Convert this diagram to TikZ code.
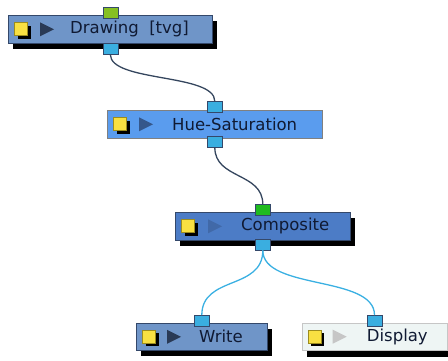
\documentclass[tikz,border=0pt]{standalone}
\usepackage{fontspec}
\setmainfont{DejaVu Sans}
\usepackage{xcolor}
\usetikzlibrary{arrows.meta, positioning, calc, shadows, shapes.misc}

\definecolor{drawblue}{HTML}{6F95C8}
\definecolor{hueblue}{HTML}{5A9CEE}
\definecolor{compblue}{HTML}{4C7CC6}
\definecolor{displight}{HTML}{EEF5F4}
\definecolor{boxedge}{HTML}{34486A}
\definecolor{portcyan}{HTML}{3AAEE0}
\definecolor{portlime}{HTML}{86C022}
\definecolor{portgreen}{HTML}{1FBB1F}
\definecolor{iconyellow}{HTML}{F8E042}
\definecolor{iconedge}{HTML}{9C8C1E}
\definecolor{wiredark}{HTML}{35465E}
\definecolor{wirecyan}{HTML}{3AB0E2}
\definecolor{textnavy}{HTML}{101A33}

\begin{document}
\begin{tikzpicture}[
    x=1pt, y=-1pt,
    modbox/.style={draw=boxedge, line width=0.6pt, fill=#1, anchor=north west,
      inner sep=0pt, minimum height=28pt},
    boxshadow/.style={drop shadow={shadow xshift=5pt, shadow yshift=-6pt,
      opacity=1, fill=black}},
    port/.style={draw=boxedge, line width=0.6pt, fill=#1, inner sep=0pt,
      minimum width=15pt, minimum height=11pt},
    icon/.style={draw=iconedge, line width=0.8pt, fill=iconyellow, inner sep=0pt,
      minimum size=13pt, drop shadow={shadow xshift=3pt, shadow yshift=-3pt,
      opacity=1, fill=black}},
    lbl/.style={anchor=west, inner sep=0pt, font=\fontsize{16.5}{18}\selectfont, text=textnavy},
    wire/.style={line width=1.3pt, draw=#1},
]
    \useasboundingbox (0,0) rectangle (448,360);

    % Drawing [tvg]
    \node[modbox=drawblue, boxshadow, minimum width=204pt] (drawing) at (8,15) {};
    \node[icon] (drawingicon) at ($(drawing.west)+(13,0)$) {};
    \fill[boxedge!80!black] ($(drawing.west)+(32,-7)$) -- ++(14,7) -- ++(-14,7) -- cycle;
    \node[lbl] (drawinglbl) at ($(drawing.west)+(62,0)$) {Drawing~ [tvg]};
    \node[port=portlime] (drawingin) at ($(drawing.north)+(0,-2)$) {};
    \node[port=portcyan] (drawingout) at ($(drawing.south)+(0,5)$) {};

    % Hue-Saturation
    \node[modbox=hueblue, draw=gray, minimum width=215pt] (huesat) at (107,110) {};
    \node[icon] (huesaticon) at ($(huesat.west)+(13,0)$) {};
    \fill[compblue!70!black] ($(huesat.west)+(32,-7)$) -- ++(14,7) -- ++(-14,7) -- cycle;
    \node[lbl] (huesatlbl) at ($(huesat.west)+(65,0)$) {Hue-Saturation};
    \node[port=portcyan] (huesatin) at ($(huesat.north)+(0,-3)$) {};
    \node[port=portcyan] (huesatout) at ($(huesat.south)+(0,3)$) {};

    % Composite
    \node[modbox=compblue, boxshadow, minimum width=175pt] (composite) at (175,212) {};
    \node[icon] (compositeicon) at ($(composite.west)+(13,0)$) {};
    \fill[compblue!85!black] ($(composite.west)+(33,-7)$) -- ++(14,7) -- ++(-14,7) -- cycle;
    \node[lbl] (compositelbl) at ($(composite.west)+(66,0)$) {Composite};
    \node[port=portgreen] (compositein) at ($(composite.north)+(0,-2)$) {};
    \node[port=portcyan] (compositeout) at ($(composite.south)+(0,4)$) {};

    % Write
    \node[modbox=drawblue, boxshadow, minimum width=131pt, minimum height=27pt] (write) at (136,323) {};
    \node[icon] (writeicon) at ($(write.west)+(13,0)$) {};
    \fill[boxedge!80!black] ($(write.west)+(31,-7)$) -- ++(14,7) -- ++(-14,7) -- cycle;
    \node[lbl] (writelbl) at ($(write.west)+(63,0)$) {Write};
    \node[port=portcyan] (writein) at ($(write.north)+(0,-2)$) {};

    % Display (shadow drawn by hand)
    \fill[black] (307,329) rectangle (452,357);
    \node[modbox=displight, draw=gray!45, minimum width=145pt, minimum height=27pt,
      chamfered rectangle, chamfered rectangle xsep=3pt, chamfered rectangle ysep=3pt,
      chamfered rectangle corners={north east, north west}] (display) at (302,323) {};
    \node[icon] (displayicon) at ($(display.west)+(13,0)$) {};
    \fill[gray!45] ($(display.west)+(31,-7)$) -- ++(14,7) -- ++(-14,7) -- cycle;
    \node[lbl] (displaylbl) at ($(display.west)+(65,0)$) {Display};
    \node[port=portcyan] (displayin) at ($(display.north)+(0,-2)$) {};

    % Connections
    \draw[wire=wiredark] (drawingout.south) .. controls ($(drawingout.south)+(0,28)$)
      and ($(huesatin.north)+(0,-28)$) .. (huesatin.north);
    \draw[wire=wiredark] (huesatout.south) .. controls ($(huesatout.south)+(0,32)$)
      and ($(compositein.north)+(0,-32)$) .. (compositein.north);
    \draw[wire=wirecyan] (compositeout.south) .. controls ($(compositeout.south)+(0,40)$)
      and ($(writein.north)+(0,-40)$) .. (writein.north);
    \draw[wire=wirecyan] (compositeout.south) .. controls ($(compositeout.south)+(0,40)$)
      and ($(displayin.north)+(0,-40)$) .. (displayin.north);
\end{tikzpicture}
\end{document}
